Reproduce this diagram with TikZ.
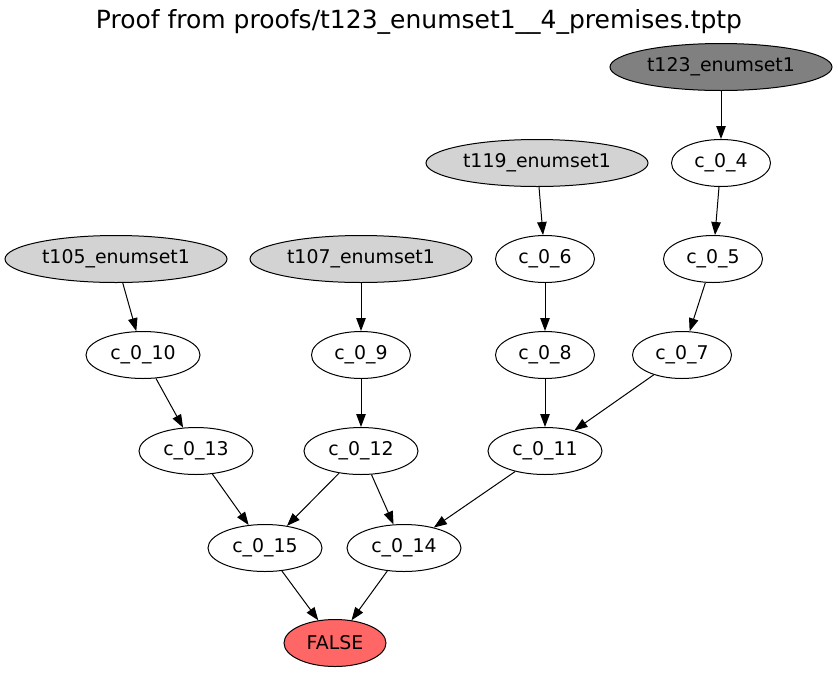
\documentclass[tikz,border=0pt]{standalone}
\usepackage{fontspec}
\setmainfont{DejaVu Sans}
\usetikzlibrary{shapes.geometric,arrows.meta}
\definecolor{axiomgray}{HTML}{D3D3D3}
\definecolor{goalgray}{HTML}{808080}
\definecolor{falsered}{HTML}{FF6666}
\begin{document}
\begin{tikzpicture}[x=1pt,y=-1pt,
  every node/.style={font=\fontsize{18.9}{21}\selectfont},
  clause/.style={ellipse,draw,line width=1pt,inner sep=0pt,minimum height=47pt,minimum width=99pt},
  wide/.style={clause,minimum width=114pt},
  axiom/.style={clause,fill=axiomgray,minimum width=222pt},
  every path/.style={line width=1pt},
  >={Triangle[length=13pt,width=9.5pt]}]
  \useasboundingbox (0,0) rectangle (838,673);
  \node (title) at (419,22) {\fontsize{25}{28}\selectfont Proof from proofs/t123\_enumset1\_\_4\_premises.tptp};
  % axioms and conjecture
  \node[axiom,fill=goalgray] (t123) at (721,67) {t123\_enumset1};
  \node[axiom] (t119) at (537,163) {t119\_enumset1};
  \node[axiom] (t105) at (116,259) {t105\_enumset1};
  \node[axiom] (t107) at (361,259) {t107\_enumset1};
  % clauses
  \node[clause] (c4) at (721,163) {c\_0\_4};
  \node[clause] (c6) at (545,259) {c\_0\_6};
  \node[clause] (c5) at (713,259) {c\_0\_5};
  \node[wide] (c10) at (143,355) {c\_0\_10};
  \node[clause] (c9) at (361,355) {c\_0\_9};
  \node[clause] (c8) at (545,355) {c\_0\_8};
  \node[clause] (c7) at (682,355) {c\_0\_7};
  \node[wide] (c13) at (196,451) {c\_0\_13};
  \node[wide] (c12) at (361,451) {c\_0\_12};
  \node[wide] (c11) at (545,451) {c\_0\_11};
  \node[wide] (c15) at (265,548) {c\_0\_15};
  \node[wide] (c14) at (404,548) {c\_0\_14};
  \node[clause,fill=falsered,minimum width=102pt] (false) at (335,643) {FALSE};
  % edges
  \draw[->] (t123) -- (c4);
  \draw[->] (t119) -- (c6);
  \draw[->] (c4) -- (c5);
  \draw[->] (t105) -- (c10);
  \draw[->] (t107) -- (c9);
  \draw[->] (c6) -- (c8);
  \draw[->] (c5) -- (c7);
  \draw[->] (c10) -- (c13);
  \draw[->] (c9) -- (c12);
  \draw[->] (c8) -- (c11);
  \draw[->] (c7) -- (c11);
  \draw[->] (c13) -- (c15);
  \draw[->] (c12) -- (c15);
  \draw[->] (c12) -- (c14);
  \draw[->] (c11) -- (c14);
  \draw[->] (c15) -- (false);
  \draw[->] (c14) -- (false);
\end{tikzpicture}
\end{document}
